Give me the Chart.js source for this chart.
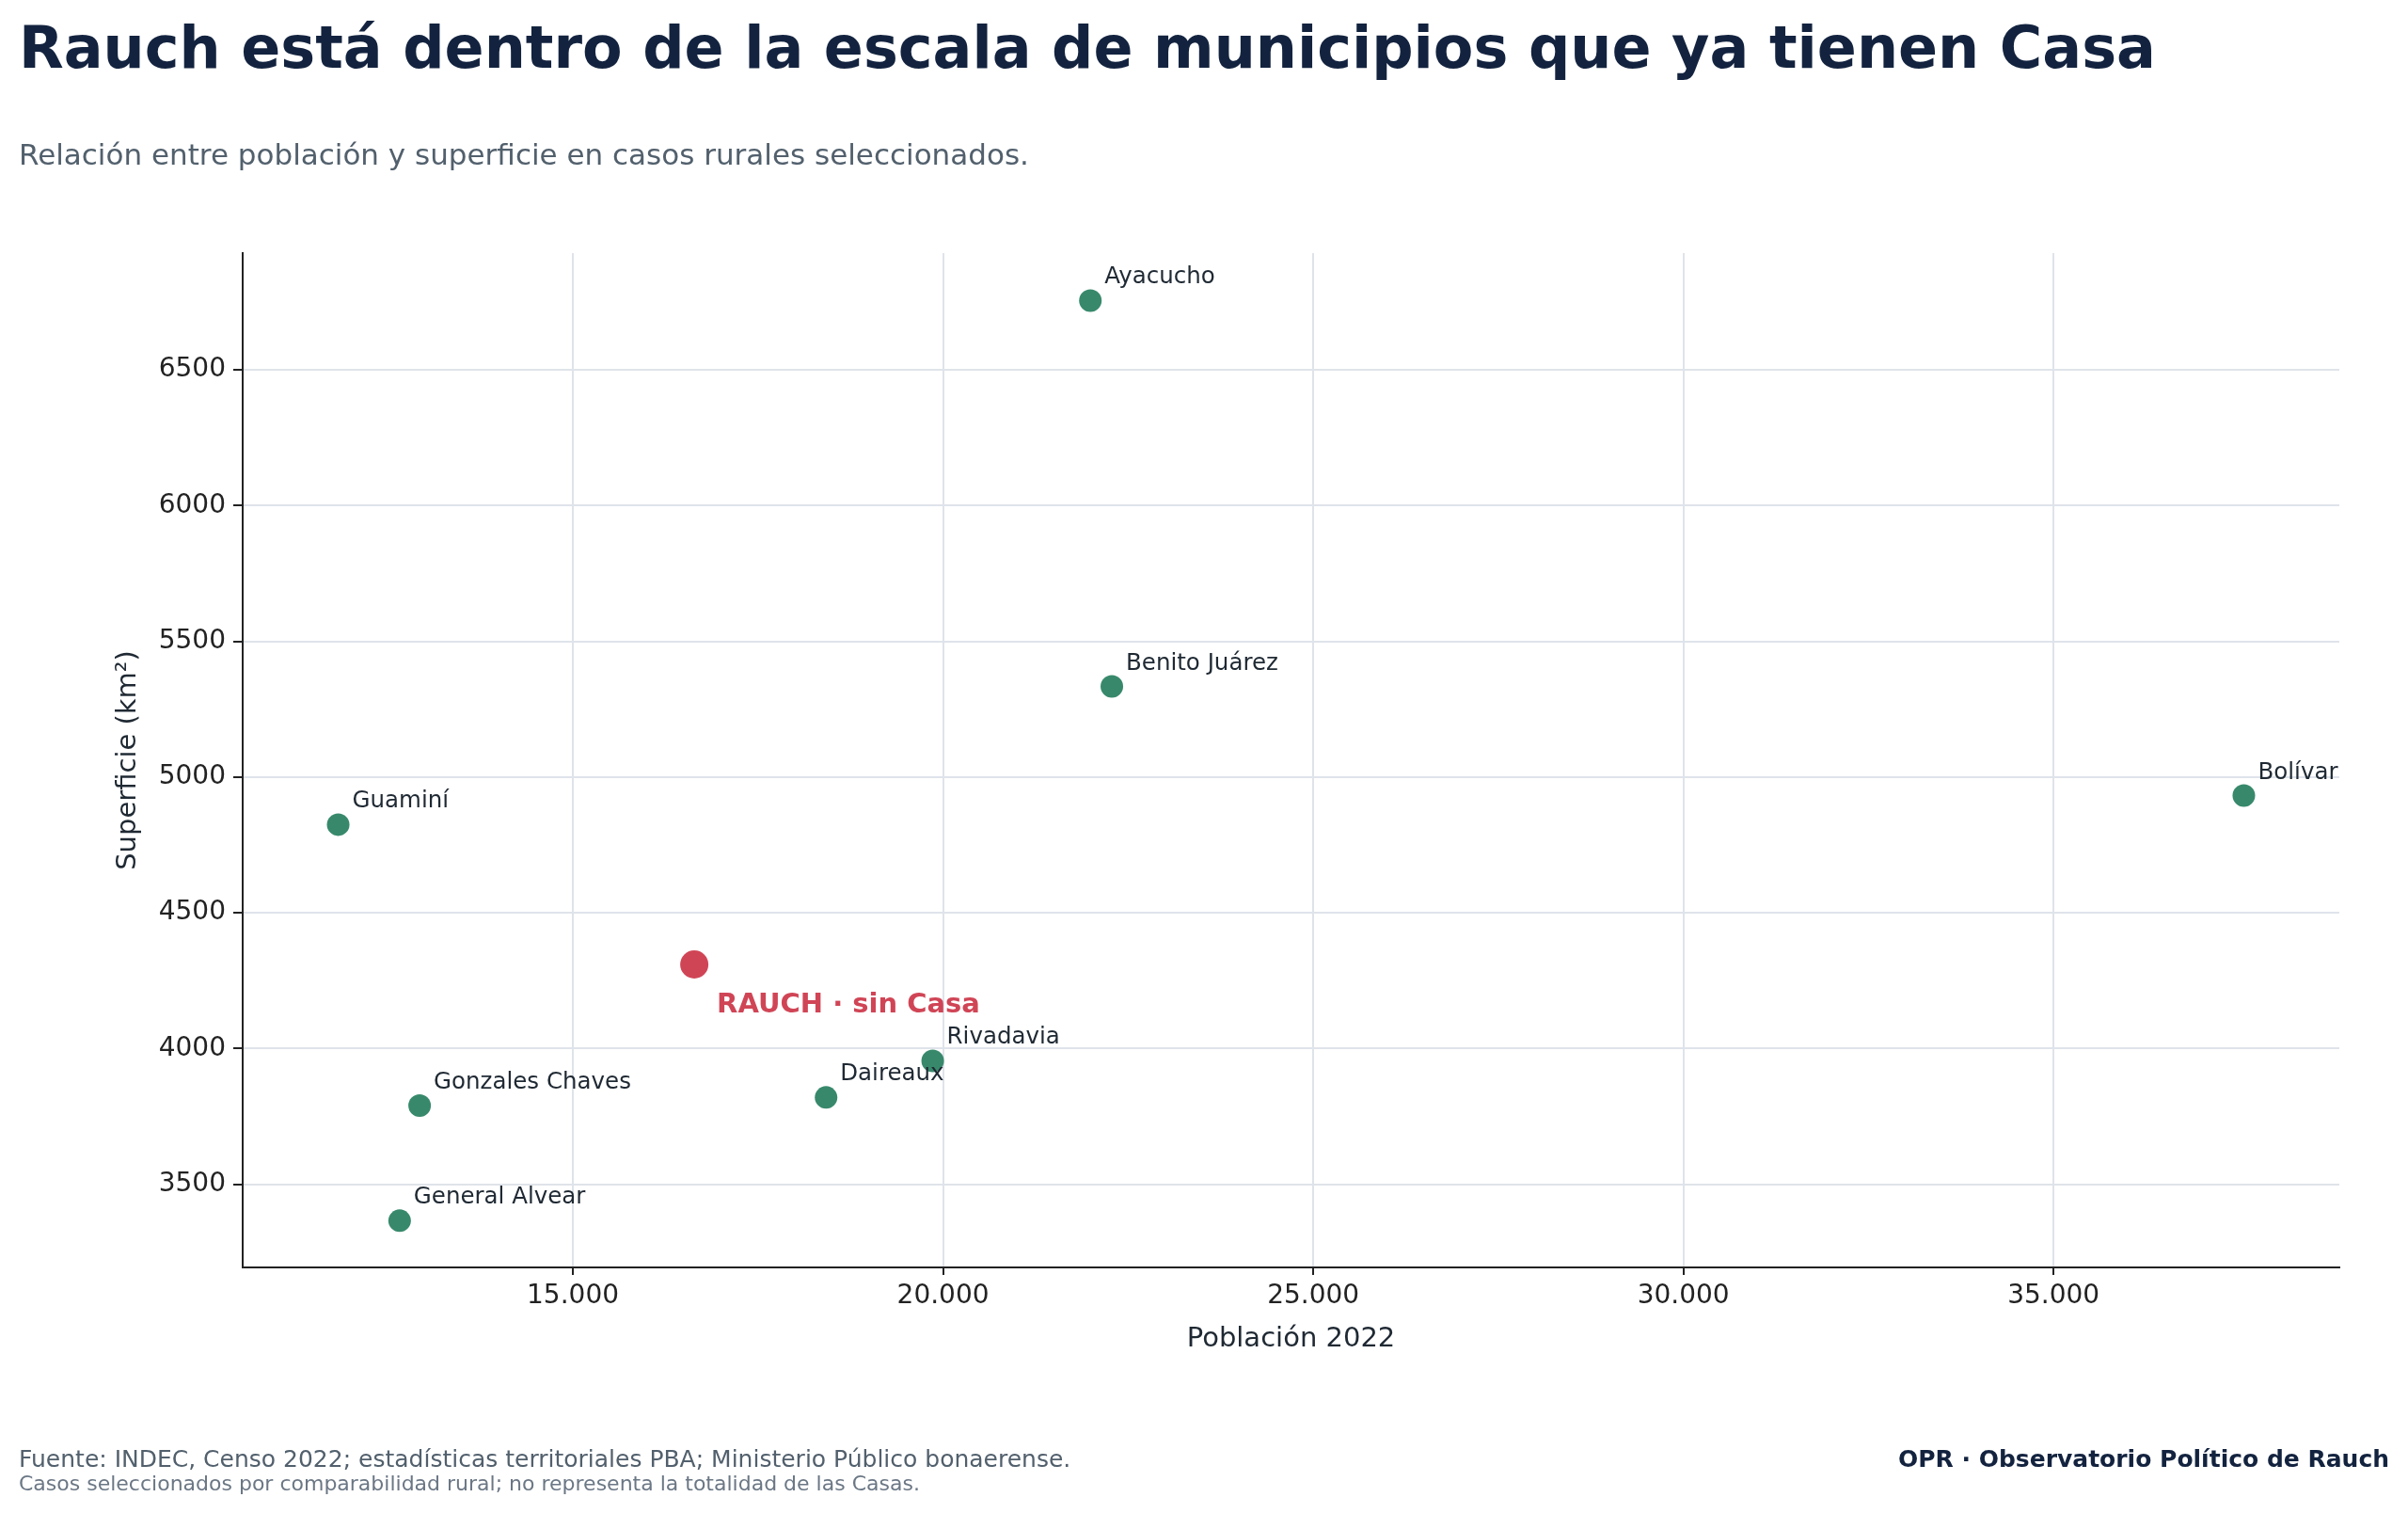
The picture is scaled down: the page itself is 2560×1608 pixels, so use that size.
<!DOCTYPE html>
<html><head><meta charset="utf-8">
<script src="https://cdn.jsdelivr.net/npm/chart.js@4/dist/chart.umd.min.js"></script>
<style>html,body{margin:0;padding:0;background:#fff}#wrap{width:2560px;height:1608px}</style>
</head><body><div id="wrap"><canvas id="c" width="2560" height="1608"></canvas></div>
<script>
const names=["Ayacucho","Benito Juárez","Bolívar","Guaminí","Rivadavia","Daireaux","Gonzales Chaves","General Alvear"];
const poblacion=[21990,22280,37570,11830,19860,18420,12930,12660];
const superficie=[6755,5334,4932,4825,3955,3820,3790,3366];
const rauchPob=[16640];
const rauchSup=[4310];
const rauchLabel="RAUCH · sin Casa";
const xTicks=[15000,20000,25000,30000,35000];
const yTicks=[3500,4000,4500,5000,5500,6000,6500];
const fmt=v=>String(v).replace(/\B(?=(\d{3})+(?!\d))/g,".");
const F="DejaVu Sans";
const textPlugin={id:"txt",afterDatasetsDraw(ch){
 const c=ch.ctx;c.save();
 const m0=ch.getDatasetMeta(0);
 c.font="24.5px "+F;c.fillStyle="#1f2933";c.textAlign="left";c.textBaseline="alphabetic";
 m0.data.forEach((p,i)=>c.fillText(names[i],p.x+15,p.y-18));
 const p=ch.getDatasetMeta(1).data[0];
 c.font="bold 29px "+F;c.fillStyle="#d04556";c.textBaseline="middle";
 c.fillText(rauchLabel,p.x+24,p.y+43);
 c.textBaseline="alphabetic";
 c.fillStyle="#13233f";c.font="bold 62px "+F;c.fillText("Rauch está dentro de la escala de municipios que ya tienen Casa",20,72);
 c.fillStyle="#52606d";c.font="31px "+F;c.fillText("Relación entre población y superficie en casos rurales seleccionados.",20,175);
 c.fillStyle="#1f2933";c.font="29px "+F;c.textAlign="center";
 c.fillText("Población 2022",(ch.chartArea.left+ch.chartArea.right)/2,1431);
 c.save();c.translate(144,(ch.chartArea.top+ch.chartArea.bottom)/2);c.rotate(-Math.PI/2);c.fillText("Superficie (km²)",0,0);c.restore();
 c.textAlign="left";c.fillStyle="#52606d";c.font="25px "+F;
 c.fillText("Fuente: INDEC, Censo 2022; estadísticas territoriales PBA; Ministerio Público bonaerense.",20,1559);
 c.fillStyle="#6b7785";c.font="22px "+F;
 c.fillText("Casos seleccionados por comparabilidad rural; no representa la totalidad de las Casas.",20,1584);
 c.textAlign="right";c.fillStyle="#13233f";c.font="bold 25px "+F;
 c.fillText("OPR · Observatorio Político de Rauch",2540,1559);
 c.restore();}};
new Chart(document.getElementById("c"),{type:"scatter",
 data:{datasets:[
  {data:poblacion.map((x,i)=>({x,y:superficie[i]})),backgroundColor:"#38896c",pointRadius:12,pointHoverRadius:12,borderWidth:0},
  {data:rauchPob.map((x,i)=>({x,y:rauchSup[i]})),backgroundColor:"#d04556",pointRadius:15,pointHoverRadius:15,borderWidth:0}]},
 options:{responsive:false,devicePixelRatio:1,animation:false,
  layout:{padding:{top:269,right:73,left:0,bottom:0}},
  plugins:{legend:{display:false},tooltip:{enabled:false}},
  scales:{
   x:{type:"linear",min:10540,max:38860,afterBuildTicks:s=>{s.ticks=xTicks.map(v=>({value:v}))},
      afterFit:s=>{s.height=261},
      grid:{color:"#dfe3ea",lineWidth:2,tickColor:"#222",tickLength:8},
      border:{color:"#222",width:2},
      ticks:{font:{family:F,size:28},color:"#222",padding:6,callback:v=>fmt(v),maxRotation:0}},
   y:{type:"linear",min:3194,max:6930,afterBuildTicks:s=>{s.ticks=yTicks.map(v=>({value:v}))},
      afterFit:s=>{s.width=258},
      grid:{color:"#dfe3ea",lineWidth:2,tickColor:"#222",tickLength:10},
      border:{color:"#222",width:2},
      ticks:{font:{family:F,size:28},color:"#222",padding:8,callback:v=>String(v)}}}},
 plugins:[textPlugin]});
</script></body></html>
